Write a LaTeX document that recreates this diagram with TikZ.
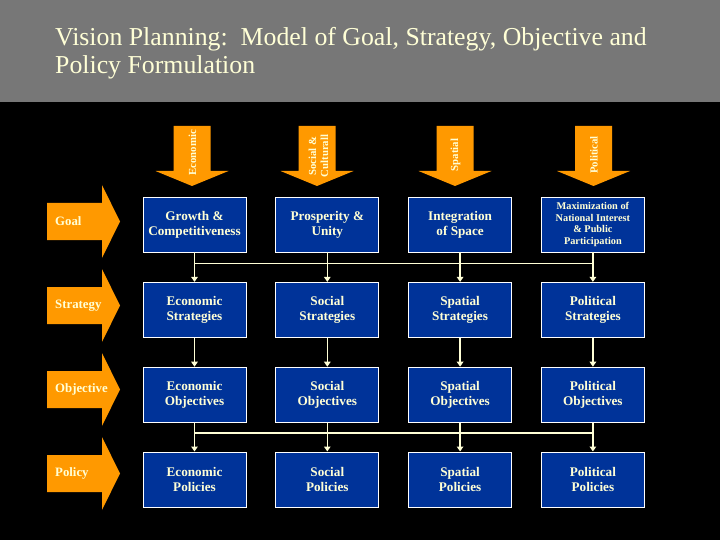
\documentclass[tikz,border=0pt]{standalone}
\usepackage{fontspec}
\setmainfont{Liberation Serif}
\usepackage{tikz}
\usepackage{xcolor}
\usetikzlibrary{positioning,calc,arrows.meta}
\definecolor{planblue}{HTML}{003399}
\definecolor{planorange}{HTML}{FF9900}
\definecolor{plangray}{HTML}{777777}
\definecolor{plancream}{HTML}{FFFFD6}
\tikzset{
    plan-box/.style = {draw=white, fill=planblue, line width=0.8pt, rectangle, minimum width=103pt, minimum height=55pt, inner sep=2pt, align=center, text=plancream, font=\bfseries\fontsize{13.2}{15}\selectfont},
    plan-link/.style = {draw=plancream, line width=1.5pt, -{Triangle[width=6.5pt,length=5pt]}},
    plan-bus/.style = {draw=plancream, line width=1.5pt},
    side-arrow/.style = {fill=planorange},
    side-label/.style = {anchor=west, inner sep=0pt, text=plancream, font=\bfseries\fontsize{12.8}{14}\selectfont},
    top-label/.style = {rotate=90, inner sep=0pt, align=center, text=plancream, font=\bfseries\fontsize{10.8}{12}\selectfont},
    title-text/.style = {anchor=north west, inner sep=0pt, align=left, text=plancream, font=\fontsize{25.8}{28}\selectfont},
}

\begin{document}
\begin{tikzpicture}[x=1pt, y=-1pt]
\useasboundingbox (0,0) rectangle (720,540);
\fill[black] (0,0) rectangle (720,540);
\fill[plangray] (0,0) rectangle (720,102);
\node[title-text] (title) at (55,27) {Vision Planning:\ \ Model of Goal, Strategy, Objective and\\Policy Formulation};

\coordinate (eco-tail) at (192,126);
\coordinate (soc-tail) at (317,126);
\coordinate (spa-tail) at (455,126);
\coordinate (pol-tail) at (593.5,126);
\fill[side-arrow] (eco-tail) ++(-18.5,0) -- ++(37,0) -- ++(0,45) -- ++(18,0) -- ++(-36.5,15) -- ++(-36.5,-15) -- ++(18,0) -- cycle;
\fill[side-arrow] (soc-tail) ++(-18.5,0) -- ++(37,0) -- ++(0,45) -- ++(18,0) -- ++(-36.5,15) -- ++(-36.5,-15) -- ++(18,0) -- cycle;
\fill[side-arrow] (spa-tail) ++(-18.5,0) -- ++(37,0) -- ++(0,45) -- ++(18,0) -- ++(-36.5,15) -- ++(-36.5,-15) -- ++(18,0) -- cycle;
\fill[side-arrow] (pol-tail) ++(-18.5,0) -- ++(37,0) -- ++(0,45) -- ++(18,0) -- ++(-36.5,15) -- ++(-36.5,-15) -- ++(18,0) -- cycle;
\node[top-label] (eco-label) at (192.5,153) {Economic};
\node[top-label] (soc-label) at (318.5,156) {Social \&\\Culturall};
\node[top-label] (spa-label) at (455.5,155) {Spatial};
\node[top-label] (pol-label) at (594,155) {Political};

\coordinate (goal-tail) at (47,221.5);
\coordinate (strat-tail) at (47,305.5);
\coordinate (obj-tail) at (47,389.5);
\coordinate (pol-tail) at (47,473.5);
\fill[side-arrow] (goal-tail) ++(0,-18.5) -- ++(55,0) -- ++(0,-18) -- ++(18,36.5) -- ++(-18,36.5) -- ++(0,-18) -- ++(-55,0) -- cycle;
\fill[side-arrow] (strat-tail) ++(0,-18.5) -- ++(55,0) -- ++(0,-18) -- ++(18,36.5) -- ++(-18,36.5) -- ++(0,-18) -- ++(-55,0) -- cycle;
\fill[side-arrow] (obj-tail) ++(0,-18.5) -- ++(55,0) -- ++(0,-18) -- ++(18,36.5) -- ++(-18,36.5) -- ++(0,-18) -- ++(-55,0) -- cycle;
\fill[side-arrow] (pol-tail) ++(0,-18.5) -- ++(55,0) -- ++(0,-18) -- ++(18,36.5) -- ++(-18,36.5) -- ++(0,-18) -- ++(-55,0) -- cycle;
\node[side-label] (goal-label) at (55,221.5) {Goal};
\node[side-label] (strat-label) at (55,305.5) {Strategy};
\node[side-label] (obj-label) at (55,389.5) {Objective};
\node[side-label] (pol-label) at (55,473.5) {Policy};

\node[plan-box] (goal-eco) at (194.5,224.5) {Growth \&\\Competitiveness};
\node[plan-box, right=29pt of goal-eco] (goal-soc) {Prosperity \&\\Unity};
\node[plan-box, right=29pt of goal-soc] (goal-spa) {Integration\\of Space};
\node[plan-box, right=29pt of goal-spa, font=\bfseries\fontsize{10.3}{11.8}\selectfont] (goal-pol) {Maximization of\\National Interest\\\& Public\\Participation};

\node[plan-box, below=29.5pt of goal-eco] (strat-eco) {Economic\\Strategies};
\node[plan-box, below=29.5pt of goal-soc] (strat-soc) {Social\\Strategies};
\node[plan-box, below=29.5pt of goal-spa] (strat-spa) {Spatial\\Strategies};
\node[plan-box, below=29.5pt of goal-pol] (strat-pol) {Political\\Strategies};

\node[plan-box, below=29pt of strat-eco] (obj-eco) {Economic\\Objectives};
\node[plan-box, below=29pt of strat-soc] (obj-soc) {Social\\Objectives};
\node[plan-box, below=29pt of strat-spa] (obj-spa) {Spatial\\Objectives};
\node[plan-box, below=29pt of strat-pol] (obj-pol) {Political\\Objectives};

\node[plan-box, below=29pt of obj-eco] (pol-eco) {Economic\\Policies};
\node[plan-box, below=29pt of obj-soc] (pol-soc) {Social\\Policies};
\node[plan-box, below=29pt of obj-spa] (pol-spa) {Spatial\\Policies};
\node[plan-box, below=29pt of obj-pol] (pol-pol) {Political\\Policies};

\coordinate (goal-bus) at ($(goal-eco.south)!0.37!(strat-eco.north)$);
\coordinate (obj-bus) at ($(obj-eco.south)!0.37!(pol-eco.north)$);
\draw[plan-bus] (goal-bus) -- (goal-bus -| goal-pol.south);
\draw[plan-bus] (obj-bus) -- (obj-bus -| obj-pol.south);

\draw[plan-link] (goal-eco) -- (strat-eco);
\draw[plan-link] (goal-soc) -- (strat-soc);
\draw[plan-link] (goal-spa) -- (strat-spa);
\draw[plan-link] (goal-pol) -- (strat-pol);
\draw[plan-link] (strat-eco) -- (obj-eco);
\draw[plan-link] (strat-soc) -- (obj-soc);
\draw[plan-link] (strat-spa) -- (obj-spa);
\draw[plan-link] (strat-pol) -- (obj-pol);
\draw[plan-link] (obj-eco) -- (pol-eco);
\draw[plan-link] (obj-soc) -- (pol-soc);
\draw[plan-link] (obj-spa) -- (pol-spa);
\draw[plan-link] (obj-pol) -- (pol-pol);
\end{tikzpicture}
\end{document}
